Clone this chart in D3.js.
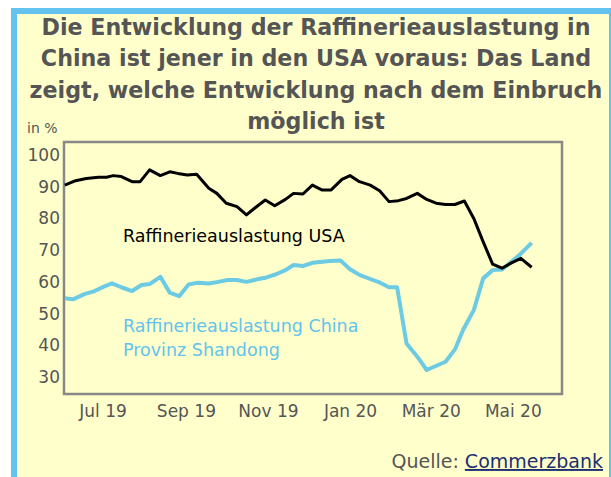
<!DOCTYPE html>
<html>
<head>
<meta charset="utf-8">
<script src="https://cdn.jsdelivr.net/npm/d3@7"></script>
<style>
  body { margin: 0; background: #ffffff; }
  svg { display: block; }
</style>
</head>
<body>
<div id="chart"></div>
<script>
// data (weekly points)
var usaDates = ["2019-06-03","2019-06-11","2019-06-19","2019-06-28","2019-07-04","2019-07-09","2019-07-15",
  "2019-07-23","2019-07-29","2019-08-05","2019-08-13","2019-08-20","2019-08-26","2019-09-02","2019-09-09",
  "2019-09-18","2019-09-24","2019-10-01","2019-10-09","2019-10-16","2019-10-22","2019-10-30","2019-11-06",
  "2019-11-14","2019-11-20","2019-11-27","2019-12-04","2019-12-11","2019-12-18","2019-12-26","2020-01-01",
  "2020-01-08","2020-01-16","2020-01-23","2020-01-30","2020-02-06","2020-02-12","2020-02-20","2020-02-27",
  "2020-03-05","2020-03-12","2020-03-19","2020-03-26","2020-04-02","2020-04-09","2020-04-16","2020-04-23",
  "2020-04-30","2020-05-07","2020-05-15"];
var usaValues = [90.5,91.9,92.6,93.0,93.0,93.5,93.2,
  91.6,91.6,95.3,93.5,94.7,94.2,93.7,93.9,
  89.5,87.9,84.8,83.7,81.1,83.2,85.8,84.0,
  86.0,87.9,87.7,90.5,89.0,89.0,92.3,93.5,
  91.6,90.5,88.7,85.3,85.6,86.3,87.9,86.0,
  84.8,84.4,84.4,85.5,80.0,72.6,65.6,64.3,
  66.0,67.4,64.6];

var chinaDates = ["2019-06-03","2019-06-09","2019-06-18","2019-06-24","2019-07-02","2019-07-08","2019-07-15",
  "2019-07-23","2019-07-30","2019-08-05","2019-08-13","2019-08-20","2019-08-27","2019-09-03","2019-09-10",
  "2019-09-18","2019-09-25","2019-10-02","2019-10-09","2019-10-16","2019-10-24","2019-10-31","2019-11-07",
  "2019-11-14","2019-11-20","2019-11-27","2019-12-04","2019-12-17","2019-12-25","2020-01-01","2020-01-08",
  "2020-01-16","2020-01-23","2020-01-30","2020-02-05","2020-02-12","2020-02-20","2020-02-27","2020-03-12",
  "2020-03-19","2020-03-25","2020-04-02","2020-04-09","2020-04-16","2020-04-23","2020-05-06","2020-05-15"];
var chinaValues = [54.8,54.5,56.2,56.9,58.5,59.5,58.3,
  57.1,59.0,59.3,61.6,56.6,55.5,59.2,59.7,
  59.5,60.0,60.6,60.6,60.0,60.8,61.4,62.4,
  63.7,65.3,65.0,66.0,66.6,66.7,64.0,62.2,
  60.9,59.8,58.3,58.3,40.6,36.4,32.2,34.8,
  38.7,44.8,51.1,61.1,63.7,63.9,68.5,72.3];

var yTicks = [30, 40, 50, 60, 70, 80, 90, 100];
var xTickDates = ["2019-07-01","2019-09-01","2019-11-01","2020-01-01","2020-03-01","2020-05-01"];
var xTickLabels = ["Jul 19","Sep 19","Nov 19","Jan 20","Mär 20","Mai 20"];

var titleLines = ["Die Entwicklung der Raffinerieauslastung in",
  "China ist jener in den USA voraus: Das Land",
  "zeigt, welche Entwicklung nach dem Einbruch",
  "möglich ist"];

var W = 611, H = 477;
var font = "'DejaVu Sans', Verdana, sans-serif";
var parse = d3.timeParse("%Y-%m-%d");

var svg = d3.select("#chart").append("svg")
  .attr("width", W).attr("height", H)
  .style("font-family", font);

// frame
svg.append("rect").attr("x", 11).attr("y", 8).attr("width", 610).attr("height", 480).attr("fill", "#63c3ee");
svg.append("rect").attr("x", 17).attr("y", 14).attr("width", 592).attr("height", 470).attr("fill", "#ffffcc");

// title
svg.append("g").selectAll("text")
  .data(titleLines).enter().append("text")
  .attr("x", 316)
  .attr("y", function(d, i) { return 35 + i * 31.3; })
  .attr("text-anchor", "middle")
  .attr("font-size", "22.2px")
  .attr("font-weight", "bold")
  .attr("fill", "#555555")
  .text(function(d) { return d; });

svg.append("text").attr("x", 27).attr("y", 133)
  .attr("font-size", "14px").attr("fill", "#555555").text("in %");

var plot = {left: 64, top: 142, right: 562, bottom: 394};

var x = d3.scaleTime()
  .domain([parse("2019-07-01"), parse("2020-05-01")])
  .range([102.5, 512.8]);
var y = d3.scaleLinear()
  .domain([24.64, 104.1])
  .range([plot.bottom, plot.top]);

svg.append("rect")
  .attr("x", plot.left).attr("y", plot.top)
  .attr("width", plot.right - plot.left).attr("height", plot.bottom - plot.top)
  .attr("fill", "#ffffcc").attr("stroke", "#888888").attr("stroke-width", 2.5);

// y axis
var yAxis = svg.append("g")
  .attr("transform", "translate(" + (plot.left - 4) + ",0)")
  .call(d3.axisLeft(y).tickValues(yTicks).tickSize(0).tickPadding(0));
yAxis.select(".domain").remove();
yAxis.selectAll("text")
  .attr("font-size", "17px").attr("font-family", font).attr("fill", "#555555");

// x axis
var xAxis = svg.append("g")
  .attr("transform", "translate(0," + (plot.bottom + 8) + ")")
  .call(d3.axisBottom(x).tickValues(xTickDates.map(parse)).tickSize(0)
    .tickFormat(function(d, i) { return xTickLabels[i]; }));
xAxis.select(".domain").remove();
xAxis.selectAll("text")
  .attr("font-size", "17px").attr("font-family", font).attr("fill", "#555555");

var line = d3.line()
  .x(function(d) { return x(d.date); })
  .y(function(d) { return y(d.value); });

var usa = usaDates.map(function(d, i) { return {date: parse(d), value: usaValues[i]}; });
var china = chinaDates.map(function(d, i) { return {date: parse(d), value: chinaValues[i]}; });

svg.append("path").datum(china)
  .attr("d", line).attr("fill", "none")
  .attr("stroke", "#6ccbe3").attr("stroke-width", 4).attr("stroke-linejoin", "round");
svg.append("path").datum(usa)
  .attr("d", line).attr("fill", "none")
  .attr("stroke", "#000000").attr("stroke-width", 3).attr("stroke-linejoin", "round");

// series labels
svg.append("text").attr("x", 123).attr("y", 242)
  .attr("font-size", "17.5px").attr("fill", "#000000").text("Raffinerieauslastung USA");
svg.append("text").attr("x", 123).attr("y", 332)
  .attr("font-size", "17.5px").attr("fill", "#62c3ec").text("Raffinerieauslastung China");
svg.append("text").attr("x", 123).attr("y", 356)
  .attr("font-size", "17.5px").attr("fill", "#62c3ec").text("Provinz Shandong");

// source
var src = svg.append("text").attr("x", 603).attr("y", 468)
  .attr("text-anchor", "end").attr("font-size", "19px");
src.append("tspan").attr("fill", "#555555").text("Quelle: ");
src.append("tspan").attr("fill", "#1c2f70").attr("text-decoration", "underline").text("Commerzbank");
</script>
</body>
</html>
